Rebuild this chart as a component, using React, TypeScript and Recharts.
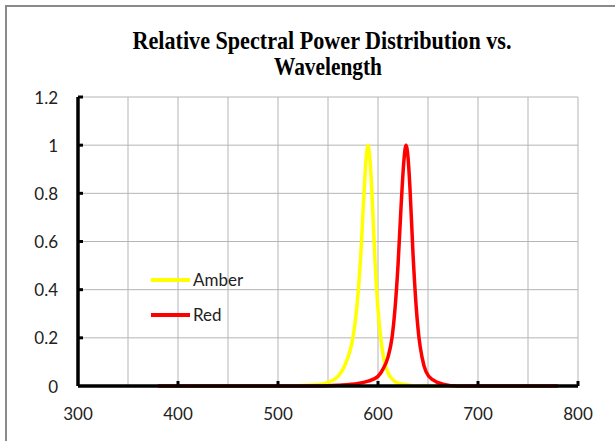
import React from 'react';
import { CartesianGrid, Legend, Line, LineChart, XAxis, YAxis } from 'recharts';

// wavelength (nm) and relative power
const amberNm = [380, 500, 540, 550, 560, 565, 570, 574, 577, 580, 583, 586, 588, 590, 592, 594, 597, 600, 603, 606, 610, 615, 620, 630, 640, 780];
const amberPower = [0, 0, 0.005, 0.015, 0.04, 0.07, 0.12, 0.18, 0.26, 0.38, 0.56, 0.8, 0.94, 1.0, 0.94, 0.8, 0.52, 0.32, 0.19, 0.11, 0.055, 0.025, 0.012, 0.004, 0, 0];

const redNm = [380, 540, 560, 580, 590, 600, 605, 610, 614, 617, 620, 623, 626, 628, 630, 632, 635, 638, 641, 644, 648, 655, 665, 680, 780];
const redPower = [0, 0, 0.003, 0.01, 0.02, 0.04, 0.07, 0.12, 0.2, 0.32, 0.5, 0.74, 0.94, 1.0, 0.95, 0.82, 0.55, 0.34, 0.2, 0.12, 0.06, 0.025, 0.008, 0, 0];

const xTicks = [300, 400, 500, 600, 700, 800];
const yTicks = [0, 0.2, 0.4, 0.6, 0.8, 1, 1.2];
const gridX = [300, 325, 350, 375, 400, 425, 450, 475, 500, 525, 550, 575, 600, 625, 650, 675, 700, 725, 750, 775, 800];

const amber = amberNm.map((x, i) => ({ x, y: amberPower[i] }));
const red = redNm.map((x, i) => ({ x, y: redPower[i] }));

const FONT = 'Lato, "Open Sans", sans-serif';

const YTick = (props: any) => {
  const { x, y, payload } = props;
  return (
    <g>
      {payload.value !== 0 && <line x1={x} x2={x + 5} y1={y} y2={y} stroke="#000" strokeWidth={3} />}
      <text x={x - 20} y={y} textAnchor="end" dominantBaseline="central" fontFamily={FONT} fontSize={17} fill="#222">
        {payload.value}
      </text>
    </g>
  );
};

const XTick = (props: any) => {
  const { x, y, payload } = props;
  return (
    <g>
      {payload.value !== 300 && <line x1={x} x2={x} y1={y} y2={y - 5} stroke="#000" strokeWidth={3} />}
      <text x={x} y={y + 27} textAnchor="middle" dominantBaseline="central" fontFamily={FONT} fontSize={17} fill="#222">
        {payload.value}
      </text>
    </g>
  );
};

const legendItems = [
  { name: 'Amber', color: '#ffff00' },
  { name: 'Red', color: '#ff0000' },
];

const renderLegend = () => (
  <div style={{ fontFamily: FONT, fontSize: 17, color: '#222' }}>
    {legendItems.map((it) => (
      <div key={it.name} style={{ display: 'flex', alignItems: 'center', height: 35 }}>
        <span style={{ display: 'inline-block', width: 39, height: 4, background: it.color, marginRight: 3 }} />
        {it.name}
      </div>
    ))}
  </div>
);

export default function App() {
  return (
    <div style={{ position: 'absolute', left: 0, top: 0, width: 615, height: 441, background: '#fff', overflow: 'hidden' }}>
      <div
        style={{
          position: 'absolute',
          left: 5,
          top: 5,
          width: 615,
          height: 441,
          borderTop: '2px solid #8a8a8a',
          borderLeft: '2px solid #8a8a8a',
        }}
      />
      <svg width={615} height={90} style={{ position: 'absolute', left: 0, top: 0 }}>
        <text x={322} y={49} textAnchor="middle" fontFamily='"Liberation Serif", "Times New Roman", serif' fontWeight="bold" fontSize={25} textLength={379} lengthAdjust="spacingAndGlyphs">
          Relative Spectral Power Distribution vs.
        </text>
        <text x={328} y={75} textAnchor="middle" fontFamily='"Liberation Serif", "Times New Roman", serif' fontWeight="bold" fontSize={25} textLength={108} lengthAdjust="spacingAndGlyphs">
          Wavelength
        </text>
      </svg>
      <div style={{ position: 'absolute', left: 0, top: 0 }}>
        <LineChart width={615} height={441} margin={{ top: 97, right: 37, left: 0, bottom: 0 }}>
          <CartesianGrid stroke="#b5b5b5" strokeWidth={1} horizontalValues={yTicks} verticalValues={gridX} />
          <XAxis
            dataKey="x"
            type="number"
            domain={[300, 800]}
            ticks={xTicks}
            height={55}
            tickSize={0}
            tickMargin={0}
            tickLine={false}
            axisLine={{ stroke: '#000', strokeWidth: 3.5 }}
            tick={<XTick />}
            allowDataOverflow
          />
          <YAxis
            type="number"
            domain={[0, 1.2]}
            ticks={yTicks}
            width={78}
            tickSize={0}
            tickMargin={0}
            tickLine={false}
            axisLine={{ stroke: '#000', strokeWidth: 3.5 }}
            tick={<YTick />}
          />
          <Legend
            layout="horizontal"
            verticalAlign="middle"
            align="center"
            content={renderLegend}
            wrapperStyle={{ position: 'absolute', left: 151, top: 262, width: 120 }}
          />
          <Line data={amber} dataKey="y" name="Amber" type="monotone" stroke="#ffff00" strokeWidth={3.5} dot={false} isAnimationActive={false} />
          <Line data={red} dataKey="y" name="Red" type="monotone" stroke="#ff0000" strokeWidth={3.5} dot={false} isAnimationActive={false} />
        </LineChart>
      </div>
    </div>
  );
}
